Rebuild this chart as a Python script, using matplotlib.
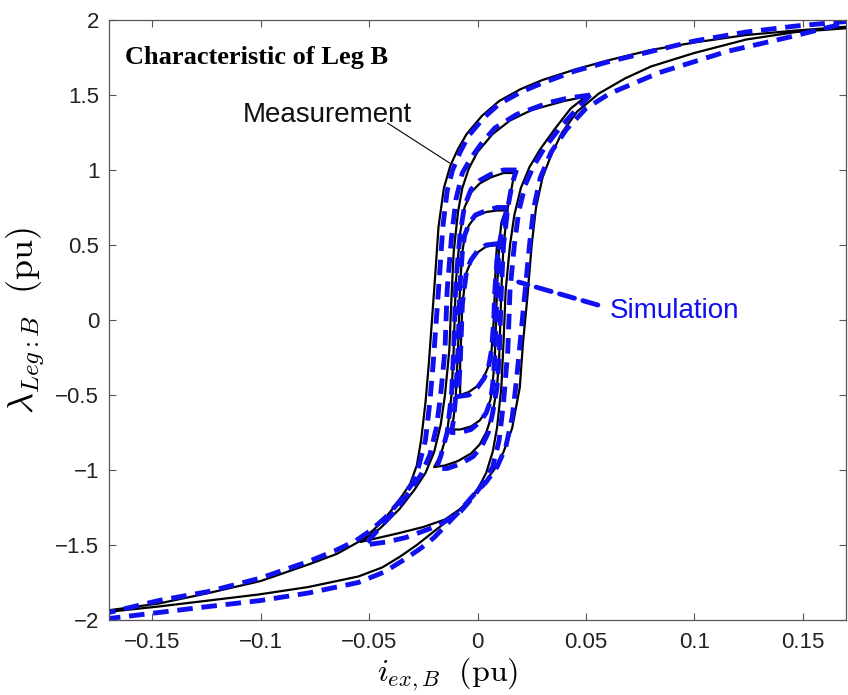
import numpy as np
import matplotlib.pyplot as plt

# hysteresis loops, each traced as upper branch (right tip -> left tip) then lower branch back
meas_major_x = [0.180, 0.170, 0.147, 0.124, 0.100, 0.080, 0.060, 0.045, 0.030, 0.020, 0.010, 0.002, -0.005,
                -0.009, -0.0125, -0.0155, -0.018, -0.0195, -0.021, -0.0225, -0.024, -0.026, -0.028, -0.031,
                -0.036, -0.042, -0.048, -0.055, -0.065, -0.078, -0.100, -0.124, -0.147, -0.170, -0.180,
                -0.170, -0.147, -0.124, -0.101, -0.078, -0.055, -0.044, -0.036, -0.028, -0.021, -0.014,
                -0.008, -0.002, 0.003, 0.008, 0.012, 0.016, 0.0195, 0.021, 0.023, 0.025, 0.027, 0.030,
                0.034, 0.039, 0.046, 0.056, 0.068, 0.080, 0.100, 0.124, 0.147, 0.170, 0.180]
meas_major_y = [1.97, 1.955, 1.93, 1.90, 1.85, 1.80, 1.73, 1.67, 1.60, 1.54, 1.46, 1.36, 1.24,
                1.14, 1.03, 0.88, 0.62, 0.30, 0.00, -0.30, -0.55, -0.80, -0.97, -1.09,
                -1.20, -1.31, -1.40, -1.48, -1.56, -1.63, -1.74, -1.82, -1.89, -1.935, -1.96,
                -1.945, -1.91, -1.87, -1.83, -1.78, -1.71, -1.65, -1.58, -1.50, -1.42, -1.34,
                -1.26, -1.17, -1.09, -0.99, -0.88, -0.72, -0.45, -0.15, 0.15, 0.50, 0.75, 0.95,
                1.10, 1.25, 1.39, 1.51, 1.61, 1.69, 1.78, 1.87, 1.92, 1.945, 1.97]

sim_major_x = [0.180, 0.170, 0.147, 0.124, 0.100, 0.080, 0.060, 0.045, 0.030, 0.020, 0.010, 0.003, -0.004,
               -0.008, -0.0115, -0.014, -0.016, -0.0175, -0.019, -0.0205, -0.022, -0.024, -0.027, -0.030,
               -0.036, -0.042, -0.049, -0.056, -0.066, -0.078, -0.100, -0.124, -0.147, -0.170, -0.180,
               -0.170, -0.147, -0.124, -0.100, -0.078, -0.055, -0.043, -0.033, -0.026, -0.020, -0.014,
               -0.008, -0.002, 0.004, 0.009, 0.013, 0.016, 0.018, 0.020, 0.022, 0.024, 0.026, 0.029,
               0.034, 0.041, 0.050, 0.061, 0.084, 0.115, 0.145, 0.170, 0.180]
sim_major_y = [2.02, 1.99, 1.96, 1.92, 1.86, 1.79, 1.72, 1.66, 1.58, 1.52, 1.44, 1.35, 1.23,
               1.12, 1.00, 0.86, 0.62, 0.30, 0.00, -0.30, -0.55, -0.80, -0.97, -1.09,
               -1.21, -1.31, -1.40, -1.47, -1.54, -1.61, -1.72, -1.81, -1.87, -1.95, -2.02,
               -1.99, -1.95, -1.91, -1.87, -1.82, -1.75, -1.68, -1.59, -1.52, -1.45, -1.36,
               -1.27, -1.17, -1.08, -0.98, -0.85, -0.65, -0.40, -0.10, 0.20, 0.50, 0.75, 0.95,
               1.12, 1.27, 1.41, 1.51, 1.65, 1.79, 1.89, 1.98, 2.02]

meas_b_x = [0.050, 0.040, 0.025, 0.015, 0.007, 0.000, -0.004, -0.007, -0.009, -0.011, -0.012, -0.013,
            -0.015, -0.017, -0.020, -0.024, -0.029, -0.036, -0.045, -0.054,
            -0.045, -0.036, -0.025, -0.015, -0.007, 0.000, 0.004, 0.007, 0.009, 0.011, 0.012,
            0.013, 0.015, 0.017, 0.020, 0.024, 0.029, 0.036, 0.043, 0.050]
meas_b_y = [1.49, 1.46, 1.40, 1.33, 1.24, 1.12, 1.01, 0.88, 0.72, 0.45, 0.15, -0.20,
            -0.50, -0.70, -0.88, -1.02, -1.13, -1.26, -1.39, -1.48,
            -1.45, -1.42, -1.38, -1.33, -1.25, -1.13, -1.02, -0.88, -0.72, -0.45, -0.15,
            0.20, 0.50, 0.70, 0.88, 1.02, 1.14, 1.28, 1.41, 1.49]

sim_b_x = [0.052, 0.042, 0.033, 0.018, 0.008, 0.002, -0.003, -0.007, -0.010, -0.012, -0.014, -0.015,
           -0.017, -0.019, -0.022, -0.026, -0.031, -0.038, -0.046, -0.052,
           -0.042, -0.033, -0.018, -0.008, -0.002, 0.003, 0.007, 0.010, 0.012, 0.014, 0.015,
           0.017, 0.019, 0.022, 0.026, 0.031, 0.038, 0.046, 0.052]
sim_b_y = [1.50, 1.48, 1.45, 1.37, 1.28, 1.18, 1.08, 0.98, 0.80, 0.55, 0.20, -0.20,
           -0.50, -0.72, -0.90, -1.03, -1.14, -1.27, -1.40, -1.50,
           -1.48, -1.45, -1.37, -1.28, -1.18, -1.08, -0.98, -0.80, -0.55, -0.20, 0.20,
           0.50, 0.72, 0.90, 1.03, 1.15, 1.28, 1.41, 1.50]

meas_c_x = [0.017, 0.012, 0.006, 0.001, -0.003, -0.006, -0.008, -0.010, -0.011, -0.012, -0.014, -0.017, -0.020,
            -0.015, -0.009, -0.003, 0.001, 0.004, 0.007, 0.009, 0.010, 0.011, 0.012, 0.014, 0.016, 0.017]
meas_c_y = [0.98, 0.98, 0.95, 0.91, 0.85, 0.75, 0.58, 0.25, -0.20, -0.50, -0.75, -0.90, -0.98,
            -0.97, -0.94, -0.89, -0.83, -0.75, -0.62, -0.45, -0.25, 0.20, 0.50, 0.75, 0.90, 0.98]

sim_c_x = [0.018, 0.012, 0.006, 0.001, -0.003, -0.006, -0.008, -0.010, -0.011, -0.012, -0.014, -0.017, -0.019,
           -0.014, -0.008, -0.002, 0.002, 0.005, 0.007, 0.009, 0.010, 0.011, 0.012, 0.014, 0.016, 0.018]
sim_c_y = [1.00, 1.00, 0.97, 0.93, 0.87, 0.76, 0.58, 0.25, -0.20, -0.50, -0.75, -0.91, -0.99,
           -0.99, -0.96, -0.91, -0.84, -0.75, -0.62, -0.45, -0.25, 0.20, 0.50, 0.75, 0.91, 1.00]

meas_d_x = [0.013, 0.009, 0.004, -0.001, -0.004, -0.006, -0.007, -0.008, -0.009, -0.010, -0.011, -0.012,
            -0.008, -0.003, 0.001, 0.004, 0.006, 0.007, 0.008, 0.009, 0.010, 0.011, 0.013]
meas_d_y = [0.73, 0.73, 0.72, 0.69, 0.63, 0.55, 0.45, 0.25, -0.20, -0.50, -0.65, -0.73,
            -0.73, -0.71, -0.67, -0.61, -0.53, -0.42, -0.25, 0.20, 0.50, 0.65, 0.73]

sim_d_x = [0.014, 0.009, 0.004, -0.001, -0.004, -0.006, -0.007, -0.008, -0.009, -0.010, -0.011, -0.012,
           -0.008, -0.003, 0.001, 0.004, 0.006, 0.007, 0.008, 0.009, 0.010, 0.012, 0.014]
sim_d_y = [0.75, 0.75, 0.73, 0.70, 0.64, 0.56, 0.45, 0.25, -0.20, -0.50, -0.66, -0.75,
           -0.75, -0.73, -0.68, -0.62, -0.54, -0.43, -0.25, 0.20, 0.50, 0.66, 0.75]

meas_e_x = [0.009, 0.004, 0.000, -0.003, -0.005, -0.006, -0.007, -0.0075, -0.008, -0.008,
            -0.004, 0.000, 0.003, 0.005, 0.0065, 0.0075, 0.008, 0.0085, 0.009]
meas_e_y = [0.50, 0.49, 0.45, 0.39, 0.32, 0.22, 0.10, -0.10, -0.30, -0.50,
            -0.48, -0.44, -0.38, -0.31, -0.20, 0.00, 0.20, 0.40, 0.50]

sim_e_x = [0.010, 0.004, 0.000, -0.003, -0.005, -0.006, -0.007, -0.0075, -0.008, -0.009,
           -0.004, 0.000, 0.003, 0.005, 0.0065, 0.0075, 0.008, 0.009, 0.010]
sim_e_y = [0.51, 0.50, 0.46, 0.40, 0.33, 0.22, 0.10, -0.10, -0.30, -0.51,
           -0.50, -0.45, -0.39, -0.32, -0.20, 0.00, 0.20, 0.40, 0.51]

x_ticks = [-0.15, -0.1, -0.05, 0, 0.05, 0.1, 0.15]
x_tick_labels = ['\u22120.15', '\u22120.1', '\u22120.05', '0', '0.05', '0.1', '0.15']
y_ticks = [-2, -1.5, -1, -0.5, 0, 0.5, 1, 1.5, 2]
y_tick_labels = ['\u22122', '\u22121.5', '\u22121', '\u22120.5', '0', '0.5', '1', '1.5', '2']

plt.rcParams['mathtext.fontset'] = 'cm'
plt.rcParams['font.family'] = ['Liberation Sans', 'DejaVu Sans']

fig = plt.figure(figsize=(8.48, 6.95), dpi=100)
ax = fig.add_axes([109 / 848, 1 - 620 / 695, 737 / 848, 600 / 695])

blue = '#1010f0'
meas = [(meas_major_x, meas_major_y), (meas_b_x, meas_b_y), (meas_c_x, meas_c_y),
        (meas_d_x, meas_d_y), (meas_e_x, meas_e_y)]
sim = [(sim_major_x, sim_major_y), (sim_b_x, sim_b_y), (sim_c_x, sim_c_y),
       (sim_d_x, sim_d_y), (sim_e_x, sim_e_y)]

for x, y in meas:
    ax.plot(x, y, color='black', lw=1.6, solid_joinstyle='round')
for x, y in sim:
    ax.plot(x, y, color=blue, lw=3.5, dashes=(3.2, 1.8))

ax.set_xlim(-0.17, 0.17)
ax.set_ylim(-2, 2)
ax.set_xticks(x_ticks)
ax.set_xticklabels(x_tick_labels)
ax.set_yticks(y_ticks)
ax.set_yticklabels(y_tick_labels)
ax.tick_params(direction='in', top=True, right=True, length=5, width=0.8,
               labelsize=16, colors='#555555', labelcolor='#222222')
ax.tick_params(axis='x', pad=9)
ax.tick_params(axis='y', pad=7)
for s in ax.spines.values():
    s.set_color('#555555')
    s.set_linewidth(0.9)

ax.set_xlabel(r'$i_{ex,B}\ \ \mathrm{(pu)}$', fontsize=23)
ax.xaxis.set_label_coords((448 - 109) / 737, -0.06)
ax.set_ylabel(r'$\lambda_{Leg:B}\ \ \mathrm{(pu)}$', fontsize=26)
ax.yaxis.set_label_coords(-0.084, 0.5)

ax.text(-0.1627, 1.707, 'Characteristic of Leg B', family='Liberation Serif',
        fontweight='bold', fontsize=19, va='baseline', ha='left')

ax.annotate('Measurement', xy=(-0.0129, 1.047), xytext=(-0.1083, 1.32),
            fontsize=20, va='baseline', ha='left', color='#111111')
ax.annotate('', xy=(-0.0129, 1.047), xytext=(-0.0415, 1.313),
            arrowprops=dict(arrowstyle='-', color='black', lw=0.8, shrinkA=0, shrinkB=0))

ax.annotate('Simulation', xy=(0.019, 0.253), xytext=(0.0608, 0.013),
            fontsize=20, va='baseline', ha='left', color=blue)
ax.annotate('', xy=(0.019, 0.253), xytext=(0.0555, 0.10),
            arrowprops=dict(arrowstyle='-', color=blue, lw=3.5, linestyle=(0, (3.2, 1.8)),
                            shrinkA=0, shrinkB=0))

fig.savefig('out.png', dpi=100)
